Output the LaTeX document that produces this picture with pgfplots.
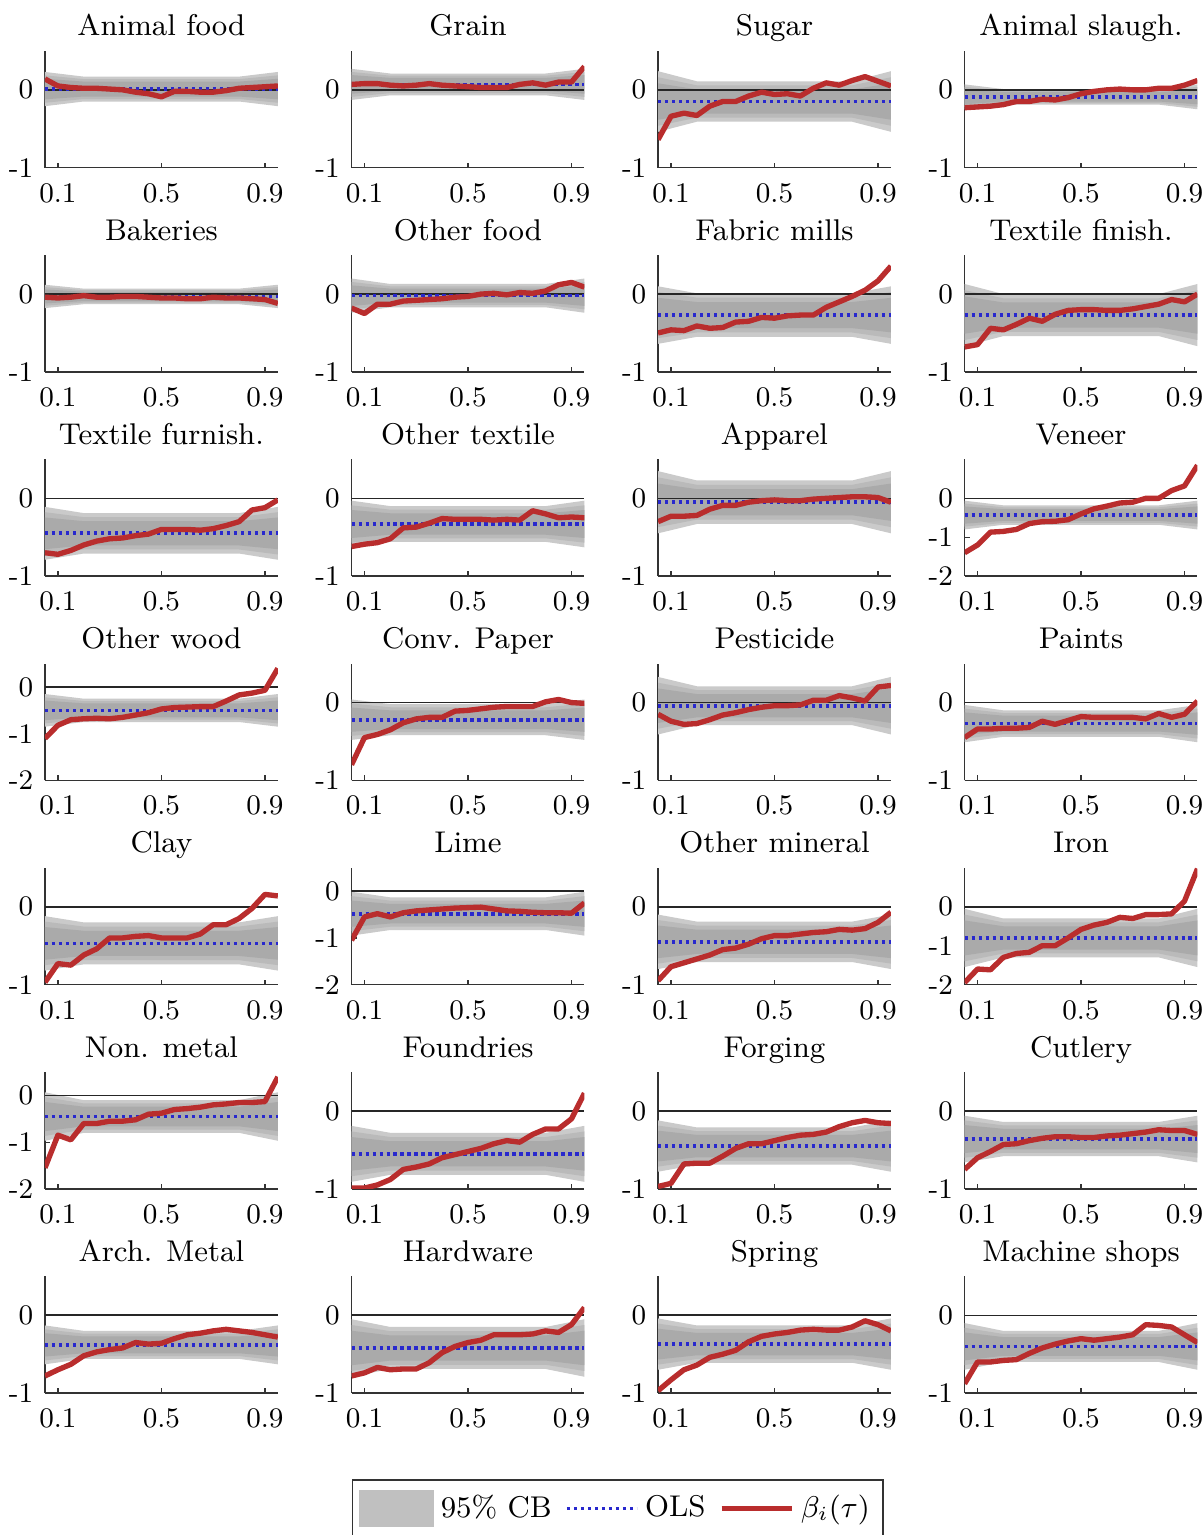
\documentclass[border=0pt]{standalone}
\usepackage{pgfplots}
\pgfplotsset{compat=1.18}
\usepgfplotslibrary{groupplots}
\definecolor{g1}{RGB}{202,202,202}
\definecolor{g2}{RGB}{186,186,186}
\definecolor{g3}{RGB}{170,170,170}
\definecolor{gl}{RGB}{192,192,192}
\definecolor{myred}{RGB}{185,45,45}
\definecolor{myblue}{RGB}{40,40,205}
\pgfplotsset{
  redl/.style={color=myred, line width=1.6pt, line join=round,
    legend image code/.code={\draw[##1] (0pt,0pt) -- (21pt,0pt);}},
  olsl/.style={color=myblue, line width=1.1pt, dash pattern=on 1pt off 1.1pt,
    legend image code/.code={\draw[##1] (0pt,0pt) -- (21pt,0pt);}},
  tall/.style={ymin=-2,ymax=1,ytick={-2,-1,0},yticklabels={-2,-1,0}},
  midr/.style={ymin=-2,ymax=0.5,ytick={-2,-1,0},yticklabels={-2,-1,0}},
}
\newcommand\band[5]{\addplot[fill=#1,draw=none,forget plot] coordinates {(0.05,#2)(0.2,#3)(0.8,#3)(0.95,#2)(0.95,#4)(0.8,#5)(0.2,#5)(0.05,#4)};}
\newcommand\zl{\addplot[black!85,line width=0.5pt,forget plot] coordinates {(0.05,0)(0.95,0)};}
\newcommand\ols[1]{\addplot[olsl] coordinates {(0.05,#1)(0.95,#1)};}
\newcommand\qline[1]{\addplot[redl] coordinates {#1};}
\begin{document}
\begin{tikzpicture}
\begin{groupplot}[
  group style={group size=4 by 7, horizontal sep=22.1pt, vertical sep=26.3pt},
  scale only axis, width=69.9pt, height=35pt,
  xmin=0.05, xmax=0.95, xtick={0.1,0.5,0.9}, xticklabels={0.1,0.5,0.9},
  ymin=-1, ymax=0.5, ytick={-1,0}, yticklabels={-1,0},
  axis x line*=bottom, axis y line*=left,
  axis line style={black!80, line width=0.45pt},
  tick align=inside, major tick length=1.5pt,
  every tick/.style={black!80, line width=0.4pt},
  tick label style={font=\fontsize{8.5}{10}\selectfont},
  xticklabel style={yshift=-1.2pt},
  every axis title shift=0pt,
  title style={font=\fontsize{9}{11}\selectfont, text depth=0.25em, inner sep=0pt, yshift=1.8pt},
]
% Row 1
\nextgroupplot[title={Animal food}]
\band{g1}{.23}{.17}{-.21}{-.15}
\band{g2}{.186}{.138}{-.166}{-.118}
\band{g3}{.142}{.106}{-.122}{-.086}
\zl \ols{.01}
\qline{(.05,.14)(.1,.05)(.15,.03)(.2,.02)(.25,.02)(.3,.01)(.35,0)(.4,-.03)(.45,-.05)(.5,-.09)(.55,-.02)(.6,-.02)(.65,-.03)(.7,-.03)(.75,-.01)(.8,.02)(.85,.03)(.9,.04)(.95,.05)}
\nextgroupplot[title={Grain}]
\band{g1}{.27}{.21}{-.13}{-.07}
\band{g2}{.23}{.182}{-.09}{-.042}
\band{g3}{.19}{.154}{-.05}{-.014}
\zl \ols{.07}
\qline{(.05,.07)(.1,.08)(.15,.08)(.2,.06)(.25,.05)(.3,.06)(.35,.08)(.4,.06)(.45,.05)(.5,.04)(.55,.03)(.6,.03)(.65,.03)(.7,.07)(.75,.09)(.8,.06)(.85,.1)(.9,.1)(.95,.3)}
\nextgroupplot[title={Sugar}]
\band{g1}{.24}{.11}{-.54}{-.41}
\band{g2}{.162}{.058}{-.462}{-.358}
\band{g3}{.084}{.006}{-.384}{-.306}
\zl \ols{-.15}
\qline{(.05,-.64)(.1,-.34)(.15,-.3)(.2,-.33)(.25,-.21)(.3,-.15)(.35,-.15)(.4,-.08)(.45,-.03)(.5,-.06)(.55,-.05)(.6,-.08)(.65,.02)(.7,.09)(.75,.06)(.8,.12)(.85,.17)(.9,.11)(.95,.05)}
\nextgroupplot[title={Animal slaugh.}]
\band{g1}{.07}{.01}{-.25}{-.19}
\band{g2}{.038}{-.01}{-.218}{-.17}
\band{g3}{.006}{-.03}{-.186}{-.15}
\zl \ols{-.09}
\qline{(.05,-.23)(.1,-.22)(.15,-.21)(.2,-.19)(.25,-.15)(.3,-.15)(.35,-.12)(.4,-.13)(.45,-.1)(.5,-.05)(.55,-.02)(.6,0)(.65,.01)(.7,0)(.75,0)(.8,.02)(.85,.02)(.9,.06)(.95,.12)}
% Row 2
\nextgroupplot[title={Bakeries}]
\band{g1}{.12}{.07}{-.18}{-.13}
\band{g2}{.09}{.05}{-.15}{-.11}
\band{g3}{.06}{.03}{-.12}{-.09}
\zl \ols{-.03}
\qline{(.05,-.04)(.1,-.05)(.15,-.04)(.2,-.02)(.25,-.04)(.3,-.04)(.35,-.03)(.4,-.03)(.45,-.04)(.5,-.05)(.55,-.05)(.6,-.06)(.65,-.06)(.7,-.04)(.75,-.05)(.8,-.05)(.85,-.06)(.9,-.07)(.95,-.12)}
\nextgroupplot[title={Other food}]
\band{g1}{.2}{.13}{-.24}{-.17}
\band{g2}{.156}{.1}{-.196}{-.14}
\band{g3}{.112}{.07}{-.152}{-.11}
\zl \ols{-.02}
\qline{(.05,-.18)(.1,-.25)(.15,-.13)(.2,-.13)(.25,-.09)(.3,-.08)(.35,-.07)(.4,-.06)(.45,-.04)(.5,-.03)(.55,0)(.6,.01)(.65,-.01)(.7,.02)(.75,.01)(.8,.04)(.85,.12)(.9,.15)(.95,.09)}
\nextgroupplot[title={Fabric mills}]
\band{g1}{.1}{.01}{-.64}{-.55}
\band{g2}{.026}{-.046}{-.566}{-.494}
\band{g3}{-.048}{-.102}{-.492}{-.438}
\zl \ols{-.27}
\qline{(.05,-.5)(.1,-.46)(.15,-.47)(.2,-.41)(.25,-.44)(.3,-.43)(.35,-.36)(.4,-.35)(.45,-.3)(.5,-.31)(.55,-.28)(.6,-.27)(.65,-.27)(.7,-.17)(.75,-.1)(.8,-.03)(.85,.05)(.9,.17)(.95,.36)}
\nextgroupplot[title={Textile finish.}]
\band{g1}{.13}{0}{-.67}{-.54}
\band{g2}{.05}{-.054}{-.59}{-.486}
\band{g3}{-.03}{-.108}{-.51}{-.432}
\zl \ols{-.27}
\qline{(.05,-.68)(.1,-.65)(.15,-.44)(.2,-.46)(.25,-.39)(.3,-.31)(.35,-.35)(.4,-.26)(.45,-.21)(.5,-.2)(.55,-.2)(.6,-.21)(.65,-.21)(.7,-.19)(.75,-.16)(.8,-.13)(.85,-.07)(.9,-.1)(.95,0)}
% Row 3
\nextgroupplot[title={Textile furnish.}]
\band{g1}{-.11}{-.19}{-.79}{-.71}
\band{g2}{-.178}{-.242}{-.722}{-.658}
\band{g3}{-.246}{-.294}{-.654}{-.606}
\zl \ols{-.45}
\qline{(.05,-.7)(.1,-.72)(.15,-.67)(.2,-.6)(.25,-.55)(.3,-.52)(.35,-.51)(.4,-.48)(.45,-.46)(.5,-.4)(.55,-.4)(.6,-.4)(.65,-.41)(.7,-.39)(.75,-.35)(.8,-.3)(.85,-.15)(.9,-.12)(.95,-.02)}
\nextgroupplot[title={Other textile}]
\band{g1}{-.03}{-.1}{-.63}{-.56}
\band{g2}{-.09}{-.146}{-.57}{-.514}
\band{g3}{-.15}{-.192}{-.51}{-.468}
\zl \ols{-.33}
\qline{(.05,-.62)(.1,-.59)(.15,-.57)(.2,-.52)(.25,-.38)(.3,-.37)(.35,-.32)(.4,-.26)(.45,-.27)(.5,-.27)(.55,-.27)(.6,-.28)(.65,-.27)(.7,-.28)(.75,-.16)(.8,-.2)(.85,-.25)(.9,-.24)(.95,-.25)}
\nextgroupplot[title={Apparel}]
\band{g1}{.35}{.23}{-.45}{-.33}
\band{g2}{.27}{.174}{-.37}{-.274}
\band{g3}{.19}{.118}{-.29}{-.218}
\zl \ols{-.05}
\qline{(.05,-.3)(.1,-.23)(.15,-.23)(.2,-.22)(.25,-.14)(.3,-.09)(.35,-.09)(.4,-.05)(.45,-.03)(.5,-.02)(.55,-.03)(.6,-.03)(.65,-.01)(.7,0)(.75,.01)(.8,.02)(.85,.02)(.9,.01)(.95,-.05)}
\nextgroupplot[title={Veneer}, tall]
\band{g1}{-.06}{-.18}{-.8}{-.68}
\band{g2}{-.134}{-.23}{-.726}{-.63}
\band{g3}{-.208}{-.28}{-.652}{-.58}
\zl \ols{-.43}
\qline{(.05,-1.4)(.1,-1.2)(.15,-.87)(.2,-.85)(.25,-.8)(.3,-.65)(.35,-.6)(.4,-.59)(.45,-.55)(.5,-.4)(.55,-.27)(.6,-.2)(.65,-.12)(.7,-.1)(.75,0)(.8,0)(.85,.2)(.9,.32)(.95,.85)}
% Row 4
\nextgroupplot[title={Other wood}, midr]
\band{g1}{-.15}{-.25}{-.85}{-.75}
\band{g2}{-.22}{-.3}{-.78}{-.7}
\band{g3}{-.29}{-.35}{-.71}{-.65}
\zl \ols{-.5}
\qline{(.05,-1.1)(.1,-.82)(.15,-.7)(.2,-.68)(.25,-.67)(.3,-.68)(.35,-.65)(.4,-.6)(.45,-.55)(.5,-.47)(.55,-.44)(.6,-.43)(.65,-.42)(.7,-.42)(.75,-.3)(.8,-.17)(.85,-.13)(.9,-.07)(.95,.4)}
\nextgroupplot[title={Conv. Paper}]
\band{g1}{.04}{-.02}{-.48}{-.42}
\band{g2}{-.012}{-.06}{-.428}{-.38}
\band{g3}{-.064}{-.1}{-.376}{-.34}
\zl \ols{-.22}
\qline{(.05,-.8)(.1,-.45)(.15,-.41)(.2,-.35)(.25,-.26)(.3,-.21)(.35,-.19)(.4,-.19)(.45,-.11)(.5,-.1)(.55,-.08)(.6,-.06)(.65,-.05)(.7,-.05)(.75,-.05)(.8,.01)(.85,.04)(.9,0)(.95,-.01)}
\nextgroupplot[title={Pesticide}]
\band{g1}{.33}{.21}{-.41}{-.29}
\band{g2}{.256}{.16}{-.336}{-.24}
\band{g3}{.182}{.11}{-.262}{-.19}
\zl \ols{-.04}
\qline{(.05,-.15)(.1,-.24)(.15,-.28)(.2,-.27)(.25,-.22)(.3,-.16)(.35,-.13)(.4,-.09)(.45,-.06)(.5,-.04)(.55,-.04)(.6,-.03)(.65,.03)(.7,.03)(.75,.09)(.8,.06)(.85,.02)(.9,.2)(.95,.22)}
\nextgroupplot[title={Paints}]
\band{g1}{-.03}{-.1}{-.51}{-.44}
\band{g2}{-.078}{-.134}{-.462}{-.406}
\band{g3}{-.126}{-.168}{-.414}{-.372}
\zl \ols{-.27}
\qline{(.05,-.45)(.1,-.34)(.15,-.34)(.2,-.33)(.25,-.33)(.3,-.32)(.35,-.24)(.4,-.28)(.45,-.23)(.5,-.18)(.55,-.19)(.6,-.19)(.65,-.19)(.7,-.19)(.75,-.21)(.8,-.14)(.85,-.19)(.9,-.15)(.95,.02)}
% Row 5
\nextgroupplot[title={Clay}]
\band{g1}{-.12}{-.2}{-.82}{-.74}
\band{g2}{-.19}{-.254}{-.75}{-.686}
\band{g3}{-.26}{-.308}{-.68}{-.632}
\zl \ols{-.47}
\qline{(.05,-.97)(.1,-.73)(.15,-.75)(.2,-.62)(.25,-.54)(.3,-.4)(.35,-.4)(.4,-.38)(.45,-.37)(.5,-.4)(.55,-.4)(.6,-.4)(.65,-.35)(.7,-.23)(.75,-.23)(.8,-.15)(.85,-.02)(.9,.16)(.95,.14)}
\nextgroupplot[title={Lime}, midr]
\band{g1}{-.01}{-.13}{-.95}{-.83}
\band{g2}{-.104}{-.2}{-.856}{-.76}
\band{g3}{-.198}{-.27}{-.762}{-.69}
\zl \ols{-.48}
\qline{(.05,-1.05)(.1,-.55)(.15,-.48)(.2,-.55)(.25,-.46)(.3,-.42)(.35,-.4)(.4,-.38)(.45,-.36)(.5,-.35)(.55,-.34)(.6,-.38)(.65,-.42)(.7,-.43)(.75,-.45)(.8,-.46)(.85,-.46)(.9,-.47)(.95,-.25)}
\nextgroupplot[title={Other mineral}]
\band{g1}{-.1}{-.19}{-.8}{-.71}
\band{g2}{-.17}{-.242}{-.73}{-.658}
\band{g3}{-.24}{-.294}{-.66}{-.606}
\zl \ols{-.45}
\qline{(.05,-.95)(.1,-.77)(.15,-.72)(.2,-.67)(.25,-.62)(.3,-.55)(.35,-.53)(.4,-.48)(.45,-.41)(.5,-.37)(.55,-.37)(.6,-.35)(.65,-.33)(.7,-.32)(.75,-.29)(.8,-.3)(.85,-.28)(.9,-.2)(.95,-.07)}
\nextgroupplot[title={Iron}, tall]
\band{g1}{-.05}{-.3}{-1.55}{-1.3}
\band{g2}{-.2}{-.4}{-1.4}{-1.2}
\band{g3}{-.35}{-.5}{-1.25}{-1.1}
\zl \ols{-.8}
\qline{(.05,-1.95)(.1,-1.6)(.15,-1.62)(.2,-1.3)(.25,-1.2)(.3,-1.17)(.35,-1)(.4,-1)(.45,-.8)(.5,-.58)(.55,-.47)(.6,-.4)(.65,-.27)(.7,-.3)(.75,-.2)(.8,-.2)(.85,-.18)(.9,.15)(.95,.98)}
% Row 6
\nextgroupplot[title={Non. metal}, midr]
\band{g1}{.07}{-.1}{-.97}{-.8}
\band{g2}{-.034}{-.17}{-.866}{-.73}
\band{g3}{-.138}{-.24}{-.762}{-.66}
\zl \ols{-.45}
\qline{(.05,-1.55)(.1,-.85)(.15,-.95)(.2,-.6)(.25,-.6)(.3,-.55)(.35,-.55)(.4,-.52)(.45,-.4)(.5,-.38)(.55,-.3)(.6,-.28)(.65,-.25)(.7,-.2)(.75,-.18)(.8,-.15)(.85,-.15)(.9,-.13)(.95,.4)}
\nextgroupplot[title={Foundries}]
\band{g1}{-.19}{-.28}{-.91}{-.82}
\band{g2}{-.262}{-.334}{-.838}{-.766}
\band{g3}{-.334}{-.388}{-.766}{-.712}
\zl \ols{-.55}
\qline{(.05,-.99)(.1,-.99)(.15,-.95)(.2,-.88)(.25,-.75)(.3,-.72)(.35,-.68)(.4,-.6)(.45,-.56)(.5,-.52)(.55,-.48)(.6,-.42)(.65,-.38)(.7,-.4)(.75,-.3)(.8,-.23)(.85,-.23)(.9,-.1)(.95,.23)}
\nextgroupplot[title={Forging}]
\band{g1}{-.12}{-.21}{-.78}{-.69}
\band{g2}{-.186}{-.258}{-.714}{-.642}
\band{g3}{-.252}{-.306}{-.648}{-.594}
\zl \ols{-.45}
\qline{(.05,-.97)(.1,-.93)(.15,-.68)(.2,-.67)(.25,-.67)(.3,-.58)(.35,-.48)(.4,-.42)(.45,-.42)(.5,-.38)(.55,-.34)(.6,-.31)(.65,-.3)(.7,-.27)(.75,-.2)(.8,-.15)(.85,-.12)(.9,-.15)(.95,-.16)}
\nextgroupplot[title={Cutlery}]
\band{g1}{-.06}{-.14}{-.66}{-.58}
\band{g2}{-.12}{-.184}{-.6}{-.536}
\band{g3}{-.18}{-.228}{-.54}{-.492}
\zl \ols{-.36}
\qline{(.05,-.75)(.1,-.6)(.15,-.52)(.2,-.43)(.25,-.42)(.3,-.38)(.35,-.35)(.4,-.33)(.45,-.33)(.5,-.34)(.55,-.34)(.6,-.32)(.65,-.31)(.7,-.29)(.75,-.27)(.8,-.24)(.85,-.25)(.9,-.25)(.95,-.3)}
% Row 7
\nextgroupplot[title={Arch. Metal}]
\band{g1}{-.13}{-.2}{-.63}{-.56}
\band{g2}{-.18}{-.236}{-.58}{-.524}
\band{g3}{-.23}{-.272}{-.53}{-.488}
\zl \ols{-.38}
\qline{(.05,-.78)(.1,-.7)(.15,-.63)(.2,-.52)(.25,-.47)(.3,-.44)(.35,-.42)(.4,-.35)(.45,-.37)(.5,-.36)(.55,-.3)(.6,-.25)(.65,-.23)(.7,-.2)(.75,-.18)(.8,-.2)(.85,-.22)(.9,-.25)(.95,-.28)}
\nextgroupplot[title={Hardware}]
\band{g1}{-.05}{-.15}{-.79}{-.69}
\band{g2}{-.124}{-.204}{-.716}{-.636}
\band{g3}{-.198}{-.258}{-.642}{-.582}
\zl \ols{-.42}
\qline{(.05,-.78)(.1,-.74)(.15,-.67)(.2,-.7)(.25,-.69)(.3,-.69)(.35,-.61)(.4,-.48)(.45,-.4)(.5,-.35)(.55,-.32)(.6,-.25)(.65,-.25)(.7,-.25)(.75,-.24)(.8,-.2)(.85,-.22)(.9,-.12)(.95,.1)}
\nextgroupplot[title={Spring}]
\band{g1}{-.04}{-.13}{-.7}{-.61}
\band{g2}{-.106}{-.178}{-.634}{-.562}
\band{g3}{-.172}{-.226}{-.568}{-.514}
\zl \ols{-.37}
\qline{(.05,-.97)(.1,-.83)(.15,-.7)(.2,-.64)(.25,-.54)(.3,-.5)(.35,-.45)(.4,-.34)(.45,-.27)(.5,-.24)(.55,-.22)(.6,-.19)(.65,-.18)(.7,-.19)(.75,-.19)(.8,-.15)(.85,-.07)(.9,-.12)(.95,-.2)}
\nextgroupplot[title={Machine shops},
  legend style={at={(-1.489,-0.99)}, anchor=center, legend columns=3,
    font=\fontsize{9}{11}\selectfont, draw=black!80, line width=0.5pt,
    inner xsep=2pt, inner ysep=2.5pt,
    /tikz/every even column/.append style={column sep=2pt}},
  legend cell align=left]
\addlegendimage{legend image code/.code={\fill[gl] (0pt,-5.2pt) rectangle (22pt,5.2pt);}}
\addlegendentry{95\% CB}
\band{g1}{-.1}{-.2}{-.7}{-.6}
\band{g2}{-.16}{-.24}{-.64}{-.56}
\band{g3}{-.22}{-.28}{-.58}{-.52}
\zl \ols{-.4}
\addlegendentry{OLS}
\qline{(.05,-.88)(.1,-.6)(.15,-.6)(.2,-.58)(.25,-.57)(.3,-.49)(.35,-.42)(.4,-.37)(.45,-.33)(.5,-.3)(.55,-.32)(.6,-.3)(.65,-.28)(.7,-.25)(.75,-.12)(.8,-.13)(.85,-.15)(.9,-.25)(.95,-.35)}
\addlegendentry{$\beta_i(\tau)$}
\end{groupplot}
\pgfresetboundingbox
\path[use as bounding box] ([xshift=-13.5pt,yshift=15.3pt]group c1r1.north west) rectangle ([xshift=1.8pt,yshift=-42.6pt]group c4r7.south east);
\end{tikzpicture}
\end{document}
